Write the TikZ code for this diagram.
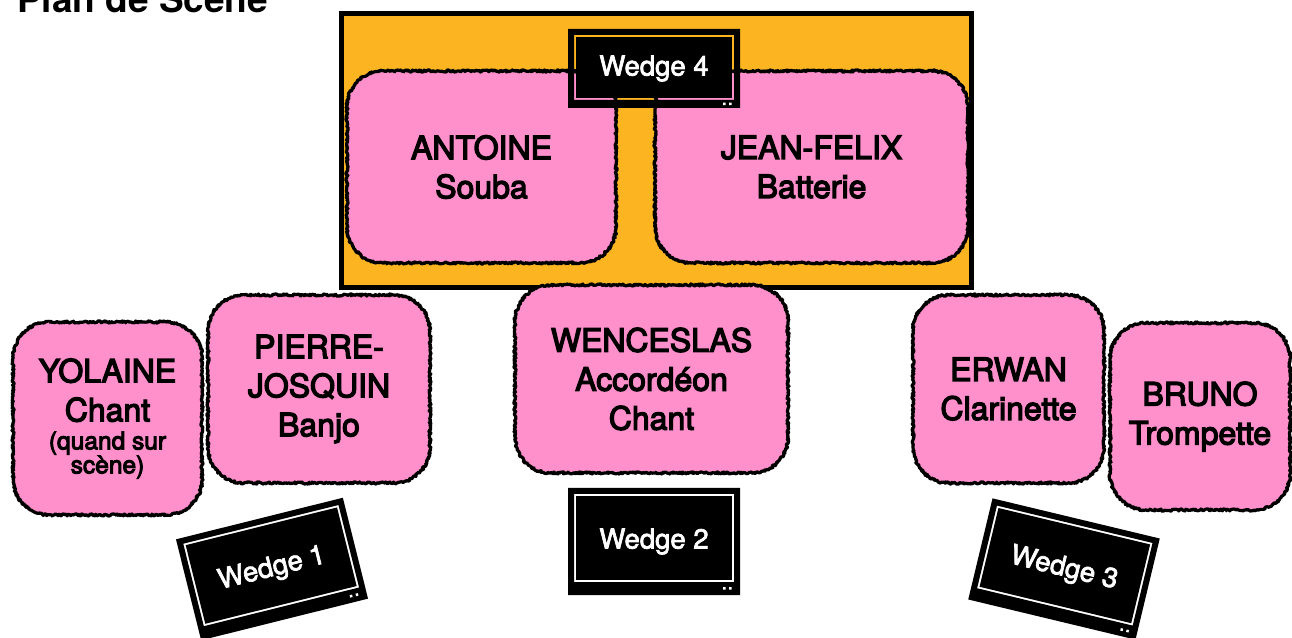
\documentclass[tikz,border=0pt]{standalone}
\usepackage{fontspec}
\setmainfont{TeX Gyre Heros}
\newfontfamily\med{TeX Gyre Heros}[FakeBold=4]
\newfontfamily\wmed{TeX Gyre Heros}[FakeBold=2.5]
\usetikzlibrary{decorations.pathmorphing}
\definecolor{pinkc}{HTML}{FF90CC}
\definecolor{stagec}{HTML}{FCB521}
\tikzset{
  pinkbox/.style={fill=pinkc, rounded corners=36pt, inner sep=0pt, outer sep=0pt,
    align=center, text=black, font=\med\fontsize{32}{39}\selectfont},
  rough/.style={draw=black, line width=3.2pt, line join=round, decorate,
    decoration={random steps, segment length=1.1pt, amplitude=1.1pt}},
  wedgetext/.style={text=white, font=\wmed\fontsize{27.5}{30}\selectfont, inner sep=0pt, transform shape},
  stagebox/.style={fill=stagec, draw=black, line width=5pt, inner sep=0pt, outer sep=0pt},
}
\newcommand\roughframe[1]{%
  \draw[rough] ([xshift=36pt]#1.north west) -- ([xshift=-36pt]#1.north east)
    arc[start angle=90,end angle=0,radius=36pt] -- ([yshift=36pt]#1.south east)
    arc[start angle=0,end angle=-90,radius=36pt] -- ([xshift=36pt]#1.south west)
    arc[start angle=270,end angle=180,radius=36pt] -- ([yshift=-36pt]#1.north west)
    arc[start angle=180,end angle=90,radius=36pt] -- cycle;}
% name, x, y, angle, height, bottom inset, text
\newcommand\wedgebox[7]{%
  \begin{scope}[shift={(#2,#3)},rotate=#4]
    \fill[black,even odd rule] (-86,{-#5/2}) rectangle (86,{#5/2})
      (-80,{-#5/2+#6}) rectangle (80,{#5/2-6});
    \fill[black] (-78,{-#5/2+#6+2}) rectangle (78,{#5/2-8});
    \fill[white] (69,{-#5/2+#6/2-1.2}) rectangle ++(2.5,2.5)
                 (75,{-#5/2+#6/2-1.2}) rectangle ++(2.5,2.5);
    \node[wedgetext] (#1) at (0,0) {#7};
  \end{scope}}
\begin{document}
\begin{tikzpicture}[x=1pt,y=1pt]
\pgfmathsetseed{7}
\useasboundingbox (0,0) rectangle (1292,637);
\clip (0,0) rectangle (1292,637);
\fill[white] (0,0) rectangle (1292,637);

% title
\node[anchor=base west, inner sep=0pt, font=\bfseries\fontsize{37}{40}\selectfont] (title) at (17,624) {Plan de Scène};

% stage
\node[stagebox, minimum width=629.5pt, minimum height=274.5pt] (stage) at (656.25,486.25) {};

% back row
\node[pinkbox, minimum width=269pt, minimum height=192pt] (antoine) at (481.5,470) {ANTOINE\\Souba};
\roughframe{antoine}
\node[pinkbox, minimum width=313pt, minimum height=192pt] (jeanfelix) at (811.5,470) {JEAN-FELIX\\Batterie};
\roughframe{jeanfelix}

\wedgebox{w4}{654}{568.5}{0}{79}{8}{Wedge 4}

% front row
\node[pinkbox, minimum width=189pt, minimum height=193pt] (yolaine) at (107.5,218.5)
  {YOLAINE\\Chant\\[-11pt]{\fontsize{24.5}{24}\selectfont (quand sur}\\[-15pt]{\fontsize{24.5}{24}\selectfont scène)}};
\roughframe{yolaine}
\node[pinkbox, minimum width=222pt, minimum height=188pt] (pierre) at (319,248) {PIERRE-\\JOSQUIN\\Banjo};
\roughframe{pierre}
\node[pinkbox, minimum width=273pt, minimum height=188pt] (wenceslas) at (651.5,258) {WENCESLAS\\Accordéon\\Chant};
\roughframe{wenceslas}
\node[pinkbox, minimum width=191pt, minimum height=188pt] (erwan) at (1008.5,248) {ERWAN\\Clarinette};
\roughframe{erwan}
\node[pinkbox, minimum width=180pt, minimum height=187pt] (bruno) at (1200,220.5) {BRUNO\\Trompette};
\roughframe{bruno}

\wedgebox{w2}{654}{95.5}{0}{107}{13}{Wedge 2}
\wedgebox{w1}{272}{68}{14}{104}{13}{Wedge 1}
\wedgebox{w3}{1064}{68}{-13.5}{104}{13}{Wedge 3}
\end{tikzpicture}
\end{document}
